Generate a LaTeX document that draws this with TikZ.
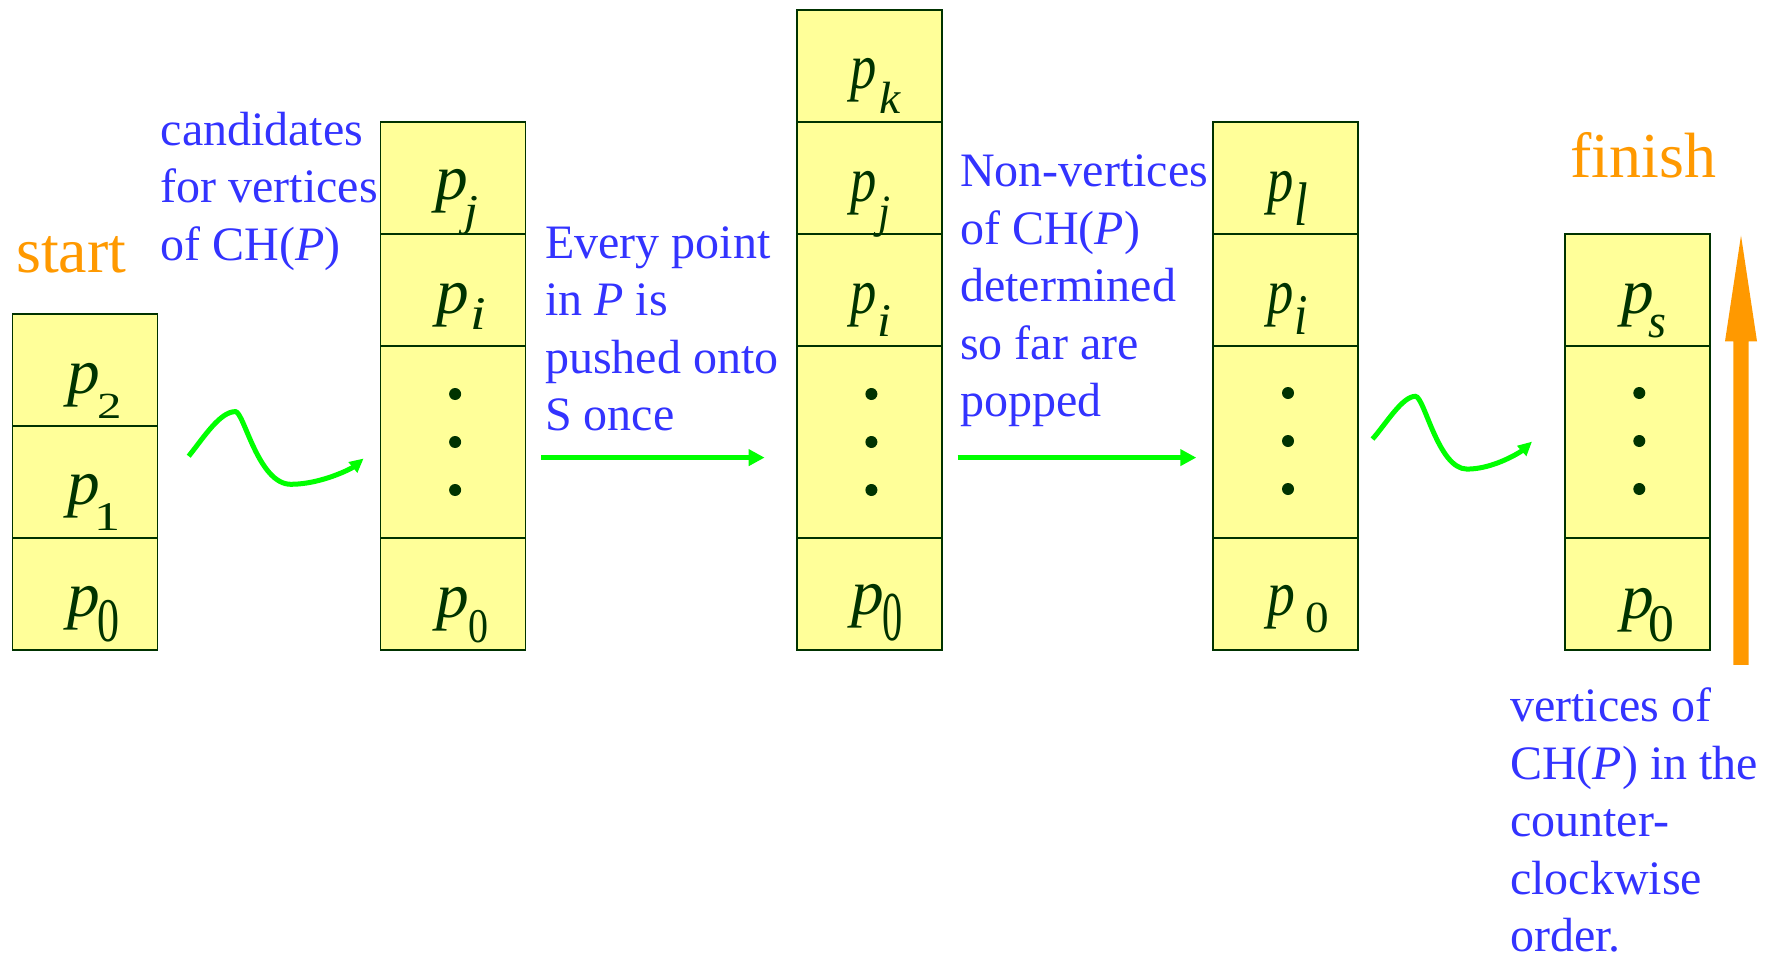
\documentclass[tikz,border=0pt]{standalone}
\usepackage{fontspec}
\setmainfont{Liberation Serif}
\usepackage{graphicx}
\usetikzlibrary{arrows.meta}
\definecolor{cellfill}{HTML}{FFFF99}
\definecolor{celldraw}{HTML}{003300}
\definecolor{tblue}{HTML}{3333FF}
\definecolor{torange}{HTML}{FF9900}
\definecolor{tgreen}{HTML}{00FF00}
% #1 p x-scale, #2 kern, #3 lowering, #4/#5 subscript scales, #6 subscript
\newcommand\plab[6]{\scalebox{#1}[1]{\fontsize{64}{64}\selectfont\itshape p}\kern#2pt\raisebox{-#3pt}{\scalebox{#4}[#5]{\fontsize{40}{40}\selectfont#6}}}
\begin{document}
\begin{tikzpicture}[x=1pt,y=-1pt,
  cell/.style={draw=celldraw, fill=cellfill, line width=1.5pt, minimum width=145pt, inner sep=0pt, outer sep=0pt},
  plabel/.style={text=celldraw, inner sep=0pt, anchor=base west},
  blk/.style={text=tblue, inner sep=0pt, anchor=base west, font=\fontsize{48}{57.5}\selectfont},
  big/.style={text=torange, inner sep=0pt, anchor=base west, font=\fontsize{64}{70}\selectfont},
  stackdot/.style={circle, fill=celldraw, inner sep=0pt, minimum size=12pt},
  garrow/.style={draw=tgreen, line width=5.4pt, -{Triangle[length=16pt,width=16pt]}},
  gwave/.style={draw=tgreen, line width=5pt, -{Triangle[length=14pt,width=13pt]}}]
\useasboundingbox (0,0) rectangle (1780,959);

% ---- stack 1
\node[cell, minimum height=112pt] (s1a) at (85.2,370) {};
\node[cell, minimum height=112pt] (s1b) at (85.2,482) {};
\node[cell, minimum height=112pt] (s1c) at (85.2,594) {};
\node[plabel] (l1a) at (67.2,393.2) {\plab{1.02}{-3.0}{25.1}{1.22}{0.92}{2}};
\node[plabel] (l1b) at (67.2,504.9) {\plab{1.02}{-6.0}{25.1}{1.3}{1.02}{1}};
\node[plabel] (l1c) at (67.2,616.5) {\plab{1.02}{-2.6}{25.3}{1.1}{1.55}{0}};

% ---- stack 2
\node[cell, minimum height=112pt] (s2a) at (453.1,178) {};
\node[cell, minimum height=112pt] (s2b) at (453.1,290) {};
\node[cell, minimum height=192pt] (s2c) at (453.1,442) {};
\node[cell, minimum height=112pt] (s2d) at (453.1,594) {};
\node[plabel] (l2a) at (435.6,199.9) {\plab{1.02}{-4.0}{26}{1.25}{1.1}{\itshape j}};
\node[plabel] (l2b) at (436.2,313.9) {\plab{1.02}{1.9}{15.6}{1.4}{1.17}{\itshape i}};
\node[plabel] (l2d) at (436.2,617.2) {\plab{1.02}{-1.0}{24.9}{1.0}{1.21}{0}};
\node[stackdot] (d2a) at (455.1,394) {};
\node[stackdot] (d2b) at (455.1,442) {};
\node[stackdot] (d2c) at (455.1,490) {};

% ---- stack 3
\node[cell, minimum height=112pt] (s3a) at (869.4,66) {};
\node[cell, minimum height=112pt] (s3b) at (869.4,178) {};
\node[cell, minimum height=112pt] (s3c) at (869.4,290) {};
\node[cell, minimum height=192pt] (s3d) at (869.4,442) {};
\node[cell, minimum height=112pt] (s3e) at (869.4,594) {};
\node[plabel] (l3a) at (850.6,88.9) {\plab{0.82}{2.9}{24.6}{1.19}{1.13}{\itshape k}};
\node[plabel] (l3b) at (850.6,201.5) {\plab{0.82}{1.3}{25.6}{1.08}{1.16}{\itshape j}};
\node[plabel] (l3c) at (850.6,313.2) {\plab{0.82}{0.6}{23}{1.24}{1.17}{\itshape i}};
\node[plabel] (l3e) at (851.6,614.9) {\plab{1.02}{-1.9}{25.8}{1.01}{1.75}{0}};
\node[stackdot] (d3a) at (871.4,394) {};
\node[stackdot] (d3b) at (871.4,442) {};
\node[stackdot] (d3c) at (871.4,490) {};

% ---- stack 4
\node[cell, minimum height=112pt] (s4a) at (1285.7,178) {};
\node[cell, minimum height=112pt] (s4b) at (1285.7,290) {};
\node[cell, minimum height=192pt] (s4c) at (1285.7,442) {};
\node[cell, minimum height=112pt] (s4d) at (1285.7,594) {};
\node[plabel] (l4a) at (1267.2,201.5) {\plab{0.82}{1.3}{23.8}{1.22}{1.54}{\itshape l}};
\node[plabel] (l4b) at (1267.2,313.2) {\plab{0.82}{0.9}{21.2}{1.2}{1.44}{\itshape i}};
\node[plabel] (l4d) at (1267.6,615.2) {\plab{0.87}{9.5}{17.2}{1.18}{1.11}{0}};
\node[stackdot] (d4a) at (1288,393) {};
\node[stackdot] (d4b) at (1288,441) {};
\node[stackdot] (d4c) at (1288,489) {};

% ---- stack 5
\node[cell, minimum height=112pt] (s5a) at (1637.4,290) {};
\node[cell, minimum height=192pt] (s5b) at (1637.4,442) {};
\node[cell, minimum height=112pt] (s5c) at (1637.4,594) {};
\node[plabel] (l5a) at (1621.6,313.2) {\plab{1.02}{-6.0}{24.5}{1.15}{1.19}{\itshape s}};
\node[plabel] (l5c) at (1620.9,618.2) {\plab{1.02}{-5.5}{23.1}{1.29}{1.32}{0}};
\node[stackdot] (d5a) at (1639.3,393) {};
\node[stackdot] (d5b) at (1639.3,441) {};
\node[stackdot] (d5c) at (1639.3,489) {};

% ---- texts
\node[big] (start) at (16,272) {start};
\node[big] (finish) at (1570,177.4) {finish};
\node[blk] (cand) at (160.5,145) {\begin{tabular}[t]{@{}l@{}}candidates\\for vertices\\of CH(\textit{P})\end{tabular}};
\node[blk] (every) at (545,258) {\begin{tabular}[t]{@{}l@{}}Every point\\in \textit{P} is\\pushed onto\\S once\end{tabular}};
\node[blk] (nonv) at (960,186.6) {\begin{tabular}[t]{@{}l@{}}Non-vertices\\of CH(\textit{P})\\determined\\so far are\\popped\end{tabular}};
\node[blk] (vert) at (1510,721.7) {\begin{tabular}[t]{@{}l@{}}vertices of\\CH(\textit{P}) in the\\counter-\\clockwise\\order.\end{tabular}};

% ---- straight arrows
\coordinate (a1s) at (541,457.6);
\coordinate (a1e) at (764.6,457.6);
\coordinate (a2s) at (957.5,457.6);
\coordinate (a2e) at (1196.3,457.6);
\draw[garrow] (a1s) -- (a1e);
\draw[garrow] (a2s) -- (a2e);

% ---- wavy arrows
\coordinate (w1s) at (188.7,456.2);
\coordinate (w1e) at (363.6,458.5);
\draw[gwave] (w1s) .. controls (204,437) and (220,411.6) .. (235.4,411.6)
  .. controls (244,411.6) and (258,484.3) .. (290.9,484.3)
  .. controls (321,484.3) and (351.6,468.5) .. (w1e);
\coordinate (w2s) at (1372.5,439.1);
\coordinate (w2e) at (1532,441.6);
\draw[gwave] (w2s) .. controls (1386.5,423) and (1402.4,396.3) .. (1415.4,396.3)
  .. controls (1424.4,396.3) and (1438,469.1) .. (1467,469.1)
  .. controls (1494,469.1) and (1521,451.6) .. (w2e);

% ---- orange upward arrow
\fill[torange] (1733.4,664.8) -- (1733.4,341.3) -- (1725,341.3) -- (1741,235.5)
  -- (1757,341.3) -- (1748.7,341.3) -- (1748.7,664.8) -- cycle;
\end{tikzpicture}
\end{document}
